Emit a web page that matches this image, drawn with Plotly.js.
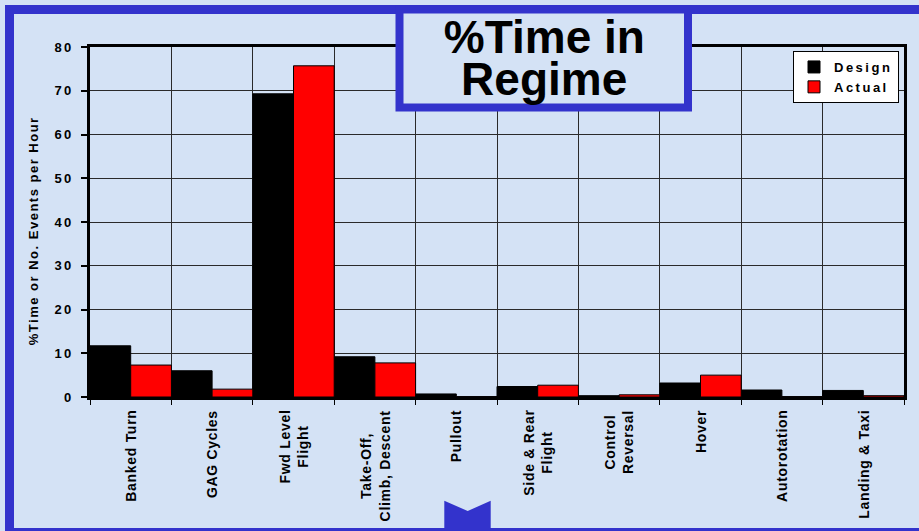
<!DOCTYPE html>
<html>
<head>
<meta charset="utf-8">
<script src="https://cdn.plot.ly/plotly-3.0.1.min.js"></script>
<style>
  html, body { margin: 0; padding: 0; background: #d4e2f5; }
  #chart { width: 919px; height: 531px; }
  /* spaced-out lettering for the axis, legend and category text */
  .annotation-text { letter-spacing: 0.7px; }
  g.annotation[data-index="0"] text, g.annotation[data-index="1"] text { letter-spacing: 0; }
  g.annotation[data-index="2"] text { letter-spacing: 1.5px; }
  .legendtext { letter-spacing: 2.5px; }
  .ytick text { letter-spacing: 2.2px; }
</style>
</head>
<body>
<div id="chart"></div>
<script>
// Flight regimes and their share of time (or events per hour)
const categories = [
  'Banked Turn',
  'GAG Cycles',
  'Fwd Level<br>Flight',
  'Take-Off,<br>Climb, Descent',
  'Pullout',
  'Side & Rear<br>Flight',
  'Control<br>Reversal',
  'Hover',
  'Autorotation',
  'Landing & Taxi'
];
const design = [11.7, 6.0, 69.3, 9.2, 0.7, 2.4, 0.3, 3.2, 1.6, 1.5];
const actual = [7.3, 1.8, 75.7, 7.8, 0.1, 2.7, 0.5, 5.0, 0.1, 0.3];
const seriesNames = ['Design', 'Actual'];
const titleLines = ['%Time in', 'Regime'];
const yTitle = '%Time or No. Events per Hour';

const BLUE = '#3333cc';
const BG = '#d4e2f5';
const FONT = 'Liberation Sans, Arial, Helvetica, sans-serif';

// plot area in pixels, used to place the frame and title box in paper units
const PLOT = { l: 90, t: 47, w: 814, h: 350 };
const px = x => (x - PLOT.l) / PLOT.w;
const py = y => (PLOT.t + PLOT.h - y) / PLOT.h;

const traces = [
  {
    type: 'bar', name: seriesNames[0], x: categories, y: design,
    marker: { color: '#000000', line: { color: '#000000', width: 1 } },
    hoverinfo: 'skip'
  },
  {
    type: 'bar', name: seriesNames[1], x: categories, y: actual,
    marker: { color: '#ff0000', line: { color: '#000000', width: 1 } },
    hoverinfo: 'skip'
  }
];

// two-line chart title inside the hanging box
const titleAnnotations = [py(37.4), py(79.1)].map((y, i) => ({
  x: px(544), xref: 'paper', y: y, yref: 'paper',
  xanchor: 'center', yanchor: 'middle',
  text: titleLines[i], showarrow: false,
  font: { family: FONT, size: 46, weight: 'bold', color: '#000' }
}));

// vertical axis caption
const yTitleAnnotation = {
  x: px(33), xref: 'paper', y: py(231), yref: 'paper',
  xanchor: 'center', yanchor: 'middle',
  text: yTitle, textangle: -90, showarrow: false,
  font: { family: FONT, size: 13, weight: 'bold', color: '#000' }
};

// rotated category labels under each group, lines centred on each other
const labelAnnotations = categories.map(c => ({
  x: c, xref: 'x',
  y: py(408), yref: 'paper',
  yanchor: 'top', xanchor: 'center',
  text: c, textangle: -90, align: 'center',
  showarrow: false,
  font: { family: FONT, size: 14, weight: 'bold', color: '#000' }
}));

const gridColor = '#2a2a2a';

const layout = {
  width: 919, height: 531,
  margin: { l: PLOT.l, r: 919 - PLOT.l - PLOT.w, t: PLOT.t, b: 531 - PLOT.t - PLOT.h, pad: 0 },
  paper_bgcolor: BG, plot_bgcolor: BG,
  font: { family: FONT, color: '#000' },
  barmode: 'group', bargap: 0, bargroupgap: 0,
  showlegend: true,
  xaxis: {
    type: 'category', tickson: 'boundaries',
    showticklabels: false,
    ticks: 'outside', ticklen: 5, tickwidth: 1, tickcolor: '#000',
    showgrid: true, gridcolor: gridColor, gridwidth: 1,
    showline: true, linecolor: '#000', linewidth: 3, mirror: true,
    zeroline: false, fixedrange: true
  },
  yaxis: {
    range: [0, 80], dtick: 10,
    ticks: 'outside', ticklen: 6, tickwidth: 2, tickcolor: '#000',
    ticklabelstandoff: 5,
    tickfont: { family: FONT, size: 13, weight: 'bold', color: '#000' },
    showgrid: true, gridcolor: gridColor, gridwidth: 1,
    showline: true, linecolor: '#000', linewidth: 3, mirror: true,
    zeroline: false, fixedrange: true
  },
  legend: {
    x: px(899), xanchor: 'right', y: py(51), yanchor: 'top',
    bgcolor: '#ffffff', bordercolor: '#000000', borderwidth: 1,
    font: { family: FONT, size: 13, weight: 'bold', color: '#000' },
    itemwidth: 30, tracegroupgap: 0
  },
  shapes: [
    // outer blue frame
    {
      type: 'rect', xref: 'paper', yref: 'paper', layer: 'above',
      x0: px(9.5), x1: px(935), y0: py(532.5), y1: py(9.5),
      line: { color: BLUE, width: 9 }, fillcolor: 'rgba(0,0,0,0)'
    },
    // title box hanging from the top of the frame
    {
      type: 'rect', xref: 'paper', yref: 'paper', layer: 'above',
      x0: px(399.5), x1: px(688), y0: py(107.5), y1: py(9.5),
      line: { color: BLUE, width: 8 }, fillcolor: BG
    },
    // notch marker on the bottom edge
    {
      type: 'path', xref: 'paper', yref: 'paper', layer: 'above',
      path: `M${px(444.3)},${py(500.7)} L${px(467.7)},${py(511)} L${px(490.7)},${py(500.7)} ` +
            `L${px(490.7)},${py(535)} L${px(444.3)},${py(535)} Z`,
      line: { color: BLUE, width: 0 }, fillcolor: BLUE
    }
  ],
  annotations: titleAnnotations.concat([yTitleAnnotation], labelAnnotations)
};

Plotly.newPlot('chart', traces, layout, { displayModeBar: false, staticPlot: true });
</script>
</body>
</html>
